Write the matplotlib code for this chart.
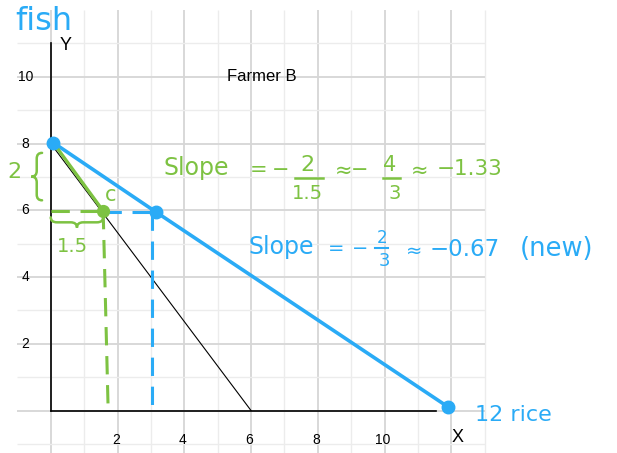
import matplotlib
matplotlib.use('Agg')
import matplotlib.pyplot as plt
from matplotlib.path import Path
import matplotlib.patches as mpatches

# Farmer B production possibilities: fish (y) vs rice (x)
orig_x = [0, 6]
orig_y = [8, 0]
new_x = [0.07, 3.15, 11.9]
new_y = [8.03, 5.95, 0.11]
c_x = [0.07, 1.57]
c_y = [8.03, 5.98]
drop_c_x = [1.57, 1.72]
drop_c_y = [5.98, 0]
drop_new_x = [3.03, 3.03]
drop_new_y = [5.95, 0]
x_ticks = [2, 4, 6, 8, 10]
y_ticks = [2, 4, 6, 8, 10]

BLUE = '#2AABF6'
GREEN = '#7DC242'
HAND = 'DejaVu Sans'
PRINT = 'Liberation Sans'

fig = plt.figure(figsize=(6.17, 4.53), dpi=100)
ax = fig.add_axes([0, 0, 1, 1])
ax.set_xlim(-1.52, 16.96)
ax.set_ylim(-1.27, 12.3)
ax.axis('off')

# graph paper
for gx in range(0, 14):
    major = gx % 2 == 0
    ax.vlines(gx, -1.4, 12, color='#d6d6d6' if major else '#ececec',
              lw=1.3 if major else 1.0, zorder=0)
for gy in range(-1, 12):
    major = gy % 2 == 0
    ax.hlines(gy, -1, 13, color='#d6d6d6' if major else '#ececec',
              lw=1.3 if major else 1.0, zorder=0)

# axes
ax.plot([0, 0], [0, 11], color='black', lw=1.2, zorder=1)
ax.plot([0, 11.55], [0, 0], color='black', lw=1.2, zorder=1)
for t in x_ticks:
    ax.text(t - 0.05, -0.88, str(t), fontsize=10, family=PRINT,
            ha='center', va='center')
for t in y_ticks:
    ax.text(-0.76, t, str(t), fontsize=10, family=PRINT,
            ha='center', va='center')
ax.text(0.46, 10.95, 'Y', fontsize=13, family=PRINT, ha='center', va='center')
ax.text(12.2, -0.8, 'X', fontsize=13, family=PRINT, ha='center', va='center')
ax.text(6.33, 10.0, 'Farmer B', fontsize=12, family=PRINT,
        ha='center', va='center')

# frontiers
ax.plot(orig_x, orig_y, color='black', lw=0.8, zorder=2)
ax.plot(new_x, new_y, color=BLUE, lw=2.6, zorder=3)
ax.plot(c_x, c_y, color=GREEN, lw=2.4, zorder=3)
ax.plot([0, c_x[1]], [c_y[1], c_y[1]], color=GREEN, lw=2.2,
        dashes=(6, 3.5), zorder=3)
ax.plot([c_x[1], new_x[1]], [5.95, new_y[1]], color=BLUE, lw=2.2,
        dashes=(6, 3.5), zorder=3)
ax.plot(drop_c_x, drop_c_y, color=GREEN, lw=2.2, dashes=(6, 3.5), zorder=3)
ax.plot(drop_new_x, drop_new_y, color=BLUE, lw=2.2, dashes=(6, 3.5), zorder=3)
ax.plot(new_x, new_y, 'o', color=BLUE, ms=9, zorder=4)
ax.plot(c_x[1:], c_y[1:], 'o', color=GREEN, ms=8.5, zorder=4)


def hand(x, y, s, color, size, ha='center'):
    ax.text(x, y, s, color=color, fontsize=size, family=HAND,
            ha=ha, va='center', zorder=5)


def brace(start, end, tip, spine, color, lw=1.8):
    """Curly brace from start to end; tip/spine are offsets on the other axis."""
    vertical = start[0] == end[0]
    a0, a1 = (start[1], end[1]) if vertical else (start[0], end[0])
    b = start[0] if vertical else start[1]
    mid = (a0 + a1) / 2
    d = (a1 - a0) * 0.12
    pts = [(b, a0), (spine, a0), (spine, a0 + d),
           (spine, mid - d), (spine, mid), (tip, mid),
           (spine, mid), (spine, mid + d),
           (spine, a1 - d), (spine, a1), (b, a1)]
    codes = [Path.MOVETO, Path.CURVE3, Path.CURVE3,
             Path.LINETO, Path.CURVE3, Path.CURVE3,
             Path.CURVE3, Path.CURVE3,
             Path.LINETO, Path.CURVE3, Path.CURVE3]
    verts = pts if vertical else [(p[1], p[0]) for p in pts]
    ax.add_patch(mpatches.PathPatch(Path(verts, codes), fill=False,
                                    edgecolor=color, lw=lw, zorder=5,
                                    capstyle='round'))


# labels
hand(-0.2, 11.67, 'fish', BLUE, 23)
hand(13.87, -0.13, '12 rice', BLUE, 16)
hand(1.78, 6.45, 'c', GREEN, 15)
hand(-1.1, 7.15, '2', GREEN, 16)
brace((-0.26, 6.3), (-0.26, 7.72), tip=-0.58, spine=-0.42, color=GREEN)
brace((0.0, 5.79), (1.57, 5.79), tip=5.48, spine=5.64, color=GREEN)
hand(0.64, 4.93, '1.5', GREEN, 14)

# green slope
hand(3.37, 7.27, 'Slope', GREEN, 17, ha='left')
hand(6.21, 7.2, '=', GREEN, 15)
hand(6.87, 7.2, '−', GREEN, 15)
hand(7.70, 7.36, '2', GREEN, 16)
ax.plot([7.32, 8.15], [6.97, 6.97], color=GREEN, lw=1.8)
hand(7.70, 6.49, '1.5', GREEN, 14)
hand(8.78, 7.2, '≈', GREEN, 15)
hand(9.26, 7.2, '−', GREEN, 15)
hand(10.16, 7.36, '4', GREEN, 15)
ax.plot([9.95, 10.46], [6.97, 6.97], color=GREEN, lw=1.8)
hand(10.3, 6.49, '3', GREEN, 14)
hand(11.06, 7.2, '≈', GREEN, 15)
hand(11.57, 7.24, '−1.33', GREEN, 15.5, ha='left')

# blue slope
hand(5.91, 4.91, 'Slope', BLUE, 17, ha='left')
hand(8.54, 4.85, '=', BLUE, 14)
hand(9.26, 4.85, '−', BLUE, 14)
hand(9.92, 5.16, '2', BLUE, 12)
ax.plot([9.72, 10.1], [4.86, 4.86], color=BLUE, lw=1.5)
hand(9.98, 4.48, '3', BLUE, 13)
hand(10.88, 4.78, '≈', BLUE, 14)
hand(11.36, 4.84, '−0.67', BLUE, 16.5, ha='left')
hand(14.06, 4.84, '(new)', BLUE, 18.5, ha='left')

fig.savefig('out.png', dpi=100)
